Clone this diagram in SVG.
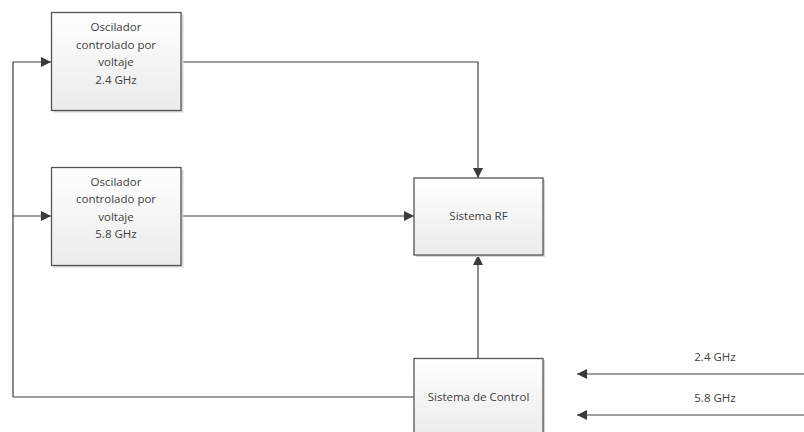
<svg xmlns="http://www.w3.org/2000/svg" width="804" height="432" viewBox="0 0 804 432">
<defs>
<linearGradient id="g" x1="0" y1="0" x2="0" y2="1">
<stop offset="0" stop-color="#ffffff"/>
<stop offset="1" stop-color="#ebebeb"/>
</linearGradient>
<marker id="a" viewBox="0 0 10 10" refX="10" refY="5" markerWidth="10" markerHeight="10" markerUnits="userSpaceOnUse" orient="auto">
<path d="M0,0 L10,5 L0,10 Z" fill="#3a3a3a"/>
</marker>
<style>
.box{fill:url(#g);stroke:#555555;stroke-width:1.3}
.sh{fill:#d6d6d6}
.t{font-family:"Open Sans","Liberation Sans",sans-serif;font-size:11.5px;fill:#404040;text-anchor:middle}
.c{fill:none;stroke:#404040;stroke-width:1.2}
</style>
</defs>
<rect width="804" height="432" fill="#ffffff"/>
<g id="connectors">
<path class="c" d="M13,397 L13,62 L51,62" marker-end="url(#a)"/>
<path class="c" d="M13,216 L51,216" marker-end="url(#a)"/>
<path class="c" d="M181,62 L478,62 L478,178" marker-end="url(#a)"/>
<path class="c" d="M181,216 L414,216" marker-end="url(#a)"/>
<path class="c" d="M478,358 L478,255" marker-end="url(#a)"/>
<path class="c" d="M13,397 L414,397"/>
<path class="c" d="M804,374 L577,374" marker-end="url(#a)"/>
<path class="c" d="M804,415 L577,415" marker-end="url(#a)"/>
</g>
<g id="vco24">
<rect class="sh" x="53.5" y="14.5" width="130" height="98"/>
<rect class="box" x="51.5" y="12.5" width="129.5" height="98"/>
<text class="t" x="116" y="31">Oscilador</text>
<text class="t" x="116" y="49">controlado por</text>
<text class="t" x="116" y="66">voltaje</text>
<text class="t" x="116" y="84">2.4 GHz</text>
</g>
<g id="vco58">
<rect class="sh" x="53.5" y="169.5" width="130" height="98"/>
<rect class="box" x="51.5" y="167.5" width="129.5" height="98"/>
<text class="t" x="116" y="186">Oscilador</text>
<text class="t" x="116" y="203">controlado por</text>
<text class="t" x="116" y="221">voltaje</text>
<text class="t" x="116" y="238">5.8 GHz</text>
</g>
<g id="rf">
<rect class="sh" x="416" y="180" width="129" height="77"/>
<rect class="box" x="414" y="178" width="129" height="77"/>
<text class="t" x="478.5" y="220">Sistema RF</text>
</g>
<g id="control">
<rect class="sh" x="416" y="360" width="129" height="80"/>
<rect class="box" x="414" y="358.5" width="129" height="80"/>
<text class="t" x="478.5" y="401">Sistema de Control</text>
</g>
<g id="labels">
<text class="t" x="715" y="361">2.4 GHz</text>
<text class="t" x="715" y="402">5.8 GHz</text>
</g>
</svg>
